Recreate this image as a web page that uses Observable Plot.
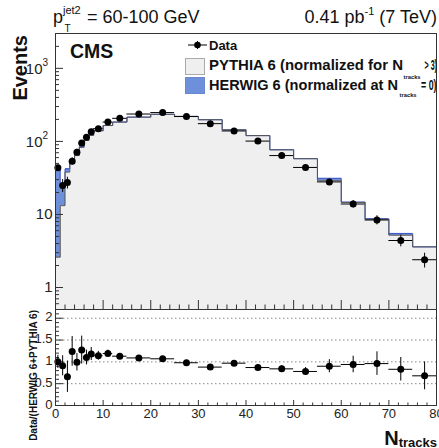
<!DOCTYPE html>
<html><head><meta charset="utf-8">
<script src="https://cdn.jsdelivr.net/npm/d3@7"></script>
<script src="https://cdn.jsdelivr.net/npm/@observablehq/plot@0.6"></script>
<style>
body{margin:0;background:#fff;}
#wrap{position:relative;width:439px;height:448px;overflow:hidden;background:#fff;font-family:"Liberation Sans",Arial,Helvetica,sans-serif;}
</style></head><body><div id="wrap"></div>
<script>
// ---------- data ----------
const binEdges = [0,1,2,3,4,5,6,7,8,10,12,15,20,25,30,35,40,45,50,55,60,65,70,75,80];
const dataEvents = [43.5,25,27.3,53.6,71.2,94.8,113.6,136,149.5,184,207,237,248,219,175,139,101,64,44,27.9,13.9,8.4,4.4,2.4];
const dataErr = [4,5,5,6,7,8,9,10,8,9,8,6,6,6,5,5,4,3.5,3,2.5,1.6,1.2,0.8,0.55];
const pythia = [2.6,13.2,38,50,64,83,103,121,140,165,184,215,235,220,198,144,120,76.6,58,29,14.6,8.6,5.2,3.6];
const herwig = [43,26,42,55,66,84,104,121,140,165,184,215,235,220,198,144,120,77,58,31.3,14.8,8.7,5.5,3.6];
const ratio = [1.0,0.91,0.66,1.24,0.99,1.27,1.10,1.18,1.14,1.19,1.13,1.09,1.07,0.98,0.88,0.97,0.87,0.84,0.78,0.90,0.94,0.96,0.83,0.68];
const ratioErr = [0.15,0.23,0.36,0.34,0.2,0.32,0.17,0.15,0.1,0.08,0.06,0.05,0.04,0.04,0.04,0.05,0.06,0.07,0.09,0.15,0.19,0.27,0.27,0.32];

const xTicks = [0,10,20,30,40,50,60,70,80];
const xTickLabels = ["0","10","20","30","40","50","60","70","80"];
const yTopTicks = [1,10,100,1000];
const yTopBase = ["1","10","10","10"];
const yTopExp = ["","","2","3"];
const yBotTicks = [0,0.5,1,1.5,2];
const yBotLabels = ["0","0.5","1","1.5","2"];
const yBotGrid = [0.5,1,1.5,2];

// ---------- derived tables ----------
const bins = dataEvents.map((v,i)=>({lo:binEdges[i],hi:binEdges[i+1],mid:(binEdges[i]+binEdges[i+1])/2,
  data:v,err:dataErr[i],pythia:pythia[i],herwig:herwig[i],ratio:ratio[i],rerr:ratioErr[i]}));
const stepOf = arr => arr.map((v,i)=>({x:binEdges[i],y:v})).concat([{x:binEdges[binEdges.length-1],y:arr[arr.length-1]}]);
const stepP = stepOf(pythia), stepH = stepOf(herwig);
const xMinor = d3.range(0,81,2).filter(v=>v%10!==0);
const yTopMinor = [0.6,0.7,0.8,0.9].concat(...[1,10,100].map(d=>[2,3,4,5,6,7,8,9].map(k=>k*d)),[2000,3000]);
const yBotMinor = d3.range(1,22).map(k=>k/10).filter(v=>Math.abs(v*2-Math.round(v*2))>1e-6);

const W=439, ML=55, MR=3;
const pxX = (W-ML-MR)/80;
const yMin=0.5, yMax=3000, topH=310, topMT=33, topMB=1;
const pxDec = (topH-topMT-topMB)/Math.log10(yMax/yMin);
const up = px => yMin*Math.pow(10,px/pxDec);
const BLUE = "#6e8fd9";
const font = {fontFamily:"'Liberation Sans',Arial,Helvetica,sans-serif"};

const topPlot = Plot.plot({
  width:W, height:topH, marginLeft:ML, marginRight:MR, marginTop:topMT, marginBottom:topMB,
  style:{...font, fontSize:"15px", background:"transparent", overflow:"visible"},
  x:{domain:[0,80], axis:null},
  y:{type:"log", domain:[yMin,yMax], axis:null},
  marks:[
    Plot.rect(bins,{x1:"lo",x2:"hi",y1:()=>yMin,y2:"herwig",fill:BLUE,shapeRendering:"crispEdges"}),
    Plot.rect(bins,{x1:"lo",x2:"hi",y1:()=>yMin,y2:"pythia",fill:"#efefef",shapeRendering:"crispEdges"}),
    Plot.line(stepH,{x:"x",y:"y",curve:"step-after",stroke:"#3b56cc",strokeWidth:1}),
    Plot.line(stepP,{x:"x",y:"y",curve:"step-after",stroke:"#555",strokeWidth:1}),
    // axis ticks (inward)
    Plot.ruleY(yTopTicks,{y:d=>d,x1:()=>0,x2:()=>8/pxX,stroke:"#333"}),
    Plot.ruleY(yTopMinor,{y:d=>d,x1:()=>0,x2:()=>4/pxX,stroke:"#333"}),
    Plot.ruleX(xTicks,{x:d=>d,y1:()=>yMin,y2:()=>up(9),stroke:"#333"}),
    Plot.ruleX(xMinor,{x:d=>d,y1:()=>yMin,y2:()=>up(4.5),stroke:"#333"}),
    // data
    Plot.ruleY(bins,{y:"data",x1:"lo",x2:"hi",stroke:"#000",strokeWidth:1}),
    Plot.ruleX(bins,{x:"mid",y1:d=>d.data-d.err,y2:d=>d.data+d.err,stroke:"#000",strokeWidth:1}),
    Plot.dot(bins,{x:"mid",y:"data",r:3.5,fill:"#000",stroke:"none"}),
    Plot.frame({stroke:"#333"}),
    // tick labels
    Plot.text(yTopTicks.filter((d,i)=>yTopExp[i]===""),{x:()=>0,y:d=>d,text:d=>yTopBase[yTopTicks.indexOf(d)],textAnchor:"end",dx:-3,fontSize:15,fill:"#222"}),
    Plot.text(yTopTicks.filter((d,i)=>yTopExp[i]!==""),{x:()=>0,y:d=>d,text:d=>yTopBase[yTopTicks.indexOf(d)],textAnchor:"end",dx:-13,dy:1,fontSize:15,fill:"#222"}),
    Plot.text(yTopTicks.filter((d,i)=>yTopExp[i]!==""),{x:()=>0,y:d=>d,text:d=>yTopExp[yTopTicks.indexOf(d)],textAnchor:"start",dx:-13,dy:-6,fontSize:10,fill:"#222"})
  ]
});

const botTop=308, botH=140, botMT=1, botMB=43;
const pxY = (botH-botMT-botMB)/2.2;
const botPlot = Plot.plot({
  width:W, height:botH, marginLeft:ML, marginRight:MR, marginTop:botMT, marginBottom:botMB,
  style:{...font, fontSize:"13px", background:"transparent", overflow:"visible"},
  x:{domain:[0,80], axis:null},
  y:{domain:[0,2.2], axis:null},
  marks:[
    Plot.ruleY(yBotGrid,{y:d=>d,stroke:"#888",strokeDasharray:"1.5,2.5",strokeWidth:1}),
    Plot.ruleY(yBotTicks,{y:d=>d,x1:()=>0,x2:()=>8/pxX,stroke:"#333"}),
    Plot.ruleY(yBotMinor,{y:d=>d,x1:()=>0,x2:()=>4/pxX,stroke:"#333"}),
    Plot.ruleX(xTicks,{x:d=>d,y1:()=>0,y2:()=>5/pxY,stroke:"#333"}),
    Plot.ruleX(xMinor,{x:d=>d,y1:()=>0,y2:()=>2.5/pxY,stroke:"#333"}),
    Plot.ruleY(bins,{y:"ratio",x1:"lo",x2:"hi",stroke:"#000",strokeWidth:1}),
    Plot.ruleX(bins,{x:"mid",y1:d=>d.ratio-d.rerr,y2:d=>d.ratio+d.rerr,stroke:"#000",strokeWidth:1}),
    Plot.dot(bins,{x:"mid",y:"ratio",r:3.5,fill:"#000",stroke:"none"}),
    Plot.frame({stroke:"#333"}),
    Plot.text(yBotTicks,{x:()=>0,y:d=>d,text:(d,i)=>yBotLabels[i],textAnchor:"end",dx:-3,dy:-1,fontSize:13,fill:"#222"}),
    Plot.text(xTicks,{x:d=>d,y:()=>0,text:(d,i)=>xTickLabels[i],dy:8,fontSize:13,fill:"#222"})
  ]
});

const wrap = document.getElementById("wrap");
topPlot.style.position="absolute"; topPlot.style.left="0px"; topPlot.style.top="0px";
botPlot.style.position="absolute"; botPlot.style.left="0px"; botPlot.style.top=botTop+"px";
wrap.appendChild(topPlot); wrap.appendChild(botPlot);

const ov = `
<svg xmlns="http://www.w3.org/2000/svg" width="439" height="448" style="position:absolute;left:0;top:0;pointer-events:none" font-family="'Liberation Sans',Arial,Helvetica,sans-serif" fill="#111">
  <text x="53" y="22.5" font-size="18">p</text>
  <text x="63" y="14" font-size="11">jet2</text>
  <text x="64.5" y="32" font-size="10">T</text>
  <text x="87" y="22.5" font-size="18">= 60-100 GeV</text>
  <text x="437" y="22.5" font-size="18" text-anchor="end">0.41 pb<tspan font-size="11" dy="-8">-1</tspan><tspan dy="8"> (7 TeV)</tspan></text>
  <text transform="translate(27,35) rotate(-90)" text-anchor="end" font-size="20" font-weight="bold">Events</text>
  <text x="70" y="58" font-size="19.5" font-weight="bold">CMS</text>
  <line x1="188" y1="45" x2="207" y2="45" stroke="#000"/>
  <line x1="197.5" y1="41" x2="197.5" y2="49" stroke="#000"/>
  <circle cx="197.5" cy="45" r="3.3" fill="#000"/>
  <text x="209" y="49.5" font-size="13" font-weight="bold">Data</text>
  <rect x="185.5" y="58.5" width="19" height="16" fill="#efefef" stroke="#aaa"/>
  <text x="209" y="69.5" font-size="14" font-weight="bold" textLength="194" lengthAdjust="spacingAndGlyphs">PYTHIA 6 (normalized for N</text>
  <text x="403.5" y="79" font-size="5.8" font-weight="bold">tracks</text>
  <text x="424.5" y="69.5" font-size="14" font-weight="bold" textLength="12.5" lengthAdjust="spacingAndGlyphs">&gt; 3)</text>
  <rect x="185.5" y="77.5" width="19" height="16" fill="${BLUE}" stroke="#6a88d0"/>
  <text x="209" y="89.5" font-size="14" font-weight="bold" textLength="189" lengthAdjust="spacingAndGlyphs">HERWIG 6 (normalized at N</text>
  <text x="399.5" y="97" font-size="5.8" font-weight="bold">tracks</text>
  <text x="421" y="89.5" font-size="14" font-weight="bold" textLength="15.5" lengthAdjust="spacingAndGlyphs">= 0)</text>
  <text transform="translate(37,310) rotate(-90)" text-anchor="end" font-size="10" font-weight="bold">Data/(HERWIG 6+PYTHIA 6)</text>
  <text x="437" y="445" text-anchor="end" font-weight="bold"><tspan font-size="20">N</tspan><tspan font-size="13" dy="2">tracks</tspan></text>
</svg>`;
wrap.insertAdjacentHTML("beforeend", ov);
</script>
</body></html>
